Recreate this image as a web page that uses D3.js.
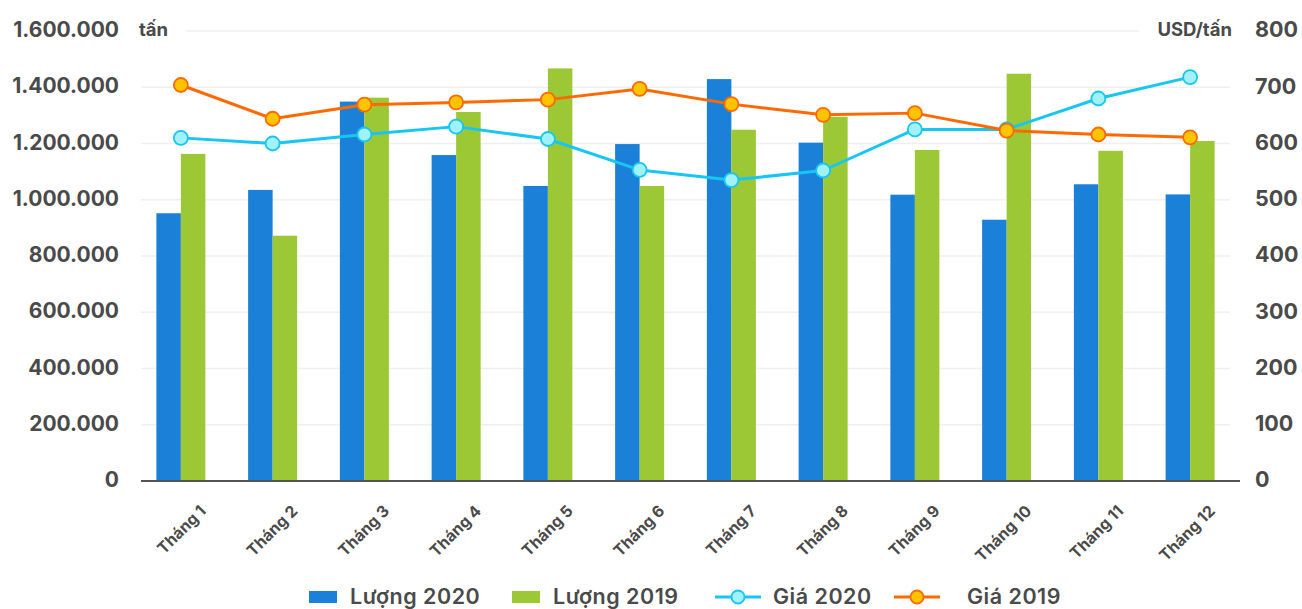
<!DOCTYPE html>
<html>
<head>
<meta charset="utf-8">
<script src="https://cdn.jsdelivr.net/npm/d3@7"></script>
<style>
  html, body { margin: 0; padding: 0; background: #fff; }
  svg { display: block; font-family: Inter, "Open Sans", sans-serif; }
</style>
</head>
<body>
<svg id="chart" width="1302" height="609"></svg>
<script>
// Monthly volume (tonnes) and price (USD/tonne), 2020 vs 2019
const months = ["Tháng 1","Tháng 2","Tháng 3","Tháng 4","Tháng 5","Tháng 6",
                "Tháng 7","Tháng 8","Tháng 9","Tháng 10","Tháng 11","Tháng 12"];
const volume2020 = [952000, 1035000, 1349000, 1159000, 1049000, 1198000,
                    1429000, 1203000, 1018000, 929000, 1055000, 1019000];
const volume2019 = [1163000, 872000, 1363000, 1312000, 1467000, 1049000,
                    1249000, 1295000, 1177000, 1448000, 1174000, 1209000];
const price2020 = [610, 600, 616, 630, 608, 553, 535, 552, 625, 625, 680, 718];
const price2019 = [704, 644, 669, 673, 678, 697, 670, 651, 654, 623, 616, 611];
const leftTicks = [0, 200000, 400000, 600000, 800000, 1000000, 1200000, 1400000, 1600000];
const rightTicks = [0, 100, 200, 300, 400, 500, 600, 700, 800];
const legendItems = [
  {name: "Lượng 2020", type: "bar", color: "#1b80d8"},
  {name: "Lượng 2019", type: "bar", color: "#9bc834"},
  {name: "Giá 2020", type: "line", color: "#17c6f2", fill: "#a0f1f8"},
  {name: "Giá 2019", type: "line", color: "#ff6a00", fill: "#ffc400"}
];

const svg = d3.select("#chart");
const textColor = "#4a4a4a";
const fmt = v => d3.format(",")(v).replace(/,/g, ".");

const plotTop = 31, plotBottom = 481;
const x = d3.scaleBand().domain(months).range([135, 1236]).padding(0);
const yL = d3.scaleLinear().domain([0, 1600000]).range([plotBottom, plotTop]);
const yR = d3.scaleLinear().domain([0, 800]).range([plotBottom, plotTop]);
const half = 24.5;
const cx = m => x(m) + x.bandwidth() / 2;

// gridlines
svg.append("g").selectAll("line").data(leftTicks.slice(1)).join("line")
  .attr("x1", 141).attr("x2", 1230)
  .attr("y1", d => yL(d)).attr("y2", d => yL(d))
  .attr("stroke", "#efefef").attr("stroke-width", 1.5);

// left axis labels
const gl = svg.append("g").attr("transform", "translate(119,-1)")
  .call(d3.axisLeft(yL).tickValues(leftTicks).tickFormat(fmt).tickSize(0).tickPadding(0));
gl.select(".domain").remove();
gl.selectAll("text").attr("fill", textColor).attr("font-size", 21).attr("font-weight", 700)
  .attr("font-family", "Inter, sans-serif");

// right axis labels
const gr = svg.append("g").attr("transform", "translate(1255,-1)")
  .call(d3.axisRight(yR).tickValues(rightTicks).tickSize(0).tickPadding(0));
gr.select(".domain").remove();
gr.selectAll("text").attr("fill", textColor).attr("font-size", 21.5).attr("font-weight", 700)
  .attr("font-family", "Inter, sans-serif");

// unit labels with white backing over the top gridline
function unitLabel(txt, xPos, anchor) {
  const g = svg.append("g");
  const t = g.append("text").attr("x", xPos).attr("y", plotTop - 1).attr("dy", "0.35em")
    .attr("text-anchor", anchor).attr("fill", textColor)
    .attr("font-size", 18.5).attr("font-weight", 700).text(txt);
  const b = t.node().getBBox();
  g.insert("rect", "text").attr("x", b.x - 18).attr("y", b.y).attr("width", b.width + 36)
    .attr("height", b.height).attr("fill", "#fff");
}
unitLabel("tấn", 139, "start");
unitLabel("USD/tấn", 1232, "end");

// bars
const bars = svg.append("g");
bars.selectAll(".b20").data(months).join("rect")
  .attr("x", m => cx(m) - half).attr("width", half)
  .attr("y", (m, i) => yL(volume2020[i])).attr("height", (m, i) => plotBottom - yL(volume2020[i]))
  .attr("fill", legendItems[0].color);
bars.selectAll(".b19").data(months).join("rect")
  .attr("x", m => cx(m)).attr("width", half)
  .attr("y", (m, i) => yL(volume2019[i])).attr("height", (m, i) => plotBottom - yL(volume2019[i]))
  .attr("fill", legendItems[1].color);

// x axis line
svg.append("line").attr("x1", 141).attr("x2", 1240).attr("y1", plotBottom).attr("y2", plotBottom)
  .attr("stroke", "#555").attr("stroke-width", 2);

// x tick labels
svg.append("g").selectAll("text").data(months).join("text")
  .attr("transform", m => `translate(${cx(m) + 26},${plotBottom + 31}) rotate(-45)`)
  .attr("text-anchor", "end").attr("fill", textColor)
  .attr("font-size", 16).attr("font-weight", 700).text(m => m);

// price lines
function priceLine(values, item) {
  const line = d3.line().x((d, i) => cx(months[i])).y(d => yR(d));
  svg.append("path").datum(values).attr("d", line).attr("fill", "none")
    .attr("stroke", item.color).attr("stroke-width", 3).attr("stroke-linejoin", "round");
  svg.append("g").selectAll("circle").data(values).join("circle")
    .attr("cx", (d, i) => cx(months[i])).attr("cy", d => yR(d)).attr("r", 7)
    .attr("fill", item.fill).attr("stroke", item.color).attr("stroke-width", 1.8);
}
priceLine(price2020, legendItems[2]);
priceLine(price2019, legendItems[3]);

// legend
const legendX = [309, 512, 715, 894];
const textX = [41, 41, 58, 73];
const lg = svg.append("g");
legendItems.forEach((it, i) => {
  const g = lg.append("g").attr("transform", `translate(${legendX[i]},597)`);
  if (it.type === "bar") {
    g.append("rect").attr("x", 0).attr("y", -6).attr("width", 28).attr("height", 12).attr("fill", it.color);
  } else {
    g.append("line").attr("x1", 0).attr("x2", 46).attr("stroke", it.color).attr("stroke-width", 3);
    g.append("circle").attr("cx", 23).attr("r", 6.5).attr("fill", it.fill)
      .attr("stroke", it.color).attr("stroke-width", 1.8);
  }
  g.append("text").attr("x", textX[i]).attr("y", 6.5).attr("fill", textColor)
    .attr("font-size", 21.5).attr("font-weight", 600).attr("letter-spacing", 0.5).text(it.name);
});
</script>
</body>
</html>
